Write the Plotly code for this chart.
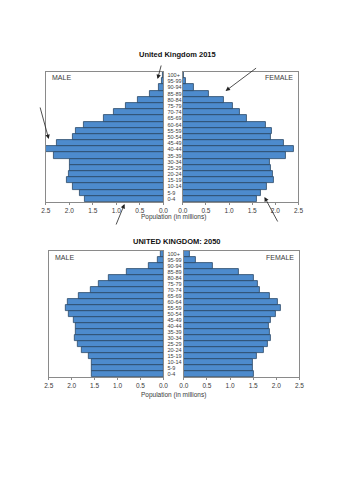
import plotly.graph_objects as go

ages = ["0-4", "5-9", "10-14", "15-19", "20-24", "25-29", "30-34", "35-39", "40-44",
        "45-49", "50-54", "55-59", "60-64", "65-69", "70-74", "75-79", "80-84",
        "85-89", "90-94", "95-99", "100+"]

male_2015 = [1.67, 1.77, 1.92, 2.05, 2.02, 2.00, 1.98, 2.32, 2.49, 2.27, 1.92, 1.87,
             1.70, 1.27, 1.05, 0.80, 0.54, 0.28, 0.09, 0.03, 0.01]
female_2015 = [1.60, 1.69, 1.82, 1.96, 1.95, 1.91, 1.88, 2.23, 2.40, 2.19, 1.90, 1.93,
               1.79, 1.39, 1.23, 1.09, 0.88, 0.56, 0.24, 0.06, 0.02]
male_2050 = [1.57, 1.56, 1.56, 1.63, 1.77, 1.86, 1.94, 1.91, 1.91, 1.96, 2.07, 2.14,
             2.08, 1.85, 1.58, 1.42, 1.19, 0.79, 0.33, 0.12, 0.05]
female_2050 = [1.51, 1.50, 1.50, 1.57, 1.72, 1.82, 1.87, 1.85, 1.84, 1.88, 1.99, 2.09,
               2.04, 1.86, 1.64, 1.59, 1.52, 1.18, 0.62, 0.27, 0.12]

x_ticks = [0, 0.5, 1.0, 1.5, 2.0, 2.5]
x_ticktext = ["0.0", "0.5", "1.0", "1.5", "2.0", "2.5"]

W, H = 354, 500
def px(x): return x / W
def py(y): return 1 - y / H

BAR = "#4d8bcd"
EDGE = "#2a4766"
FRAME = "#8a8a8a"
TXT = "#3a3a3a"
FONT = "Liberation Sans, Arial, sans-serif"

idx = list(range(len(ages)))
fig = go.Figure()

panels = [
    (male_2015, "x", "y"),
    (female_2015, "x2", "y2"),
    (male_2050, "x3", "y3"),
    (female_2050, "x4", "y4"),
]
for vals, xa, ya in panels:
    fig.add_trace(go.Bar(
        x=vals, y=idx, orientation="h", xaxis=xa, yaxis=ya, width=1.0,
        marker=dict(color=BAR, line=dict(color=EDGE, width=0.8)),
        showlegend=False, hoverinfo="skip"))

# geometry (pixels)
top = dict(y0=72, y1=202)
bot = dict(y0=251, y1=377)
xl_top = (42, 163); xr_top = (183, 302)
xl_bot = (45, 163); xr_bot = (184, 303)

def xaxis(dom, rng, anchor):
    return dict(domain=[px(dom[0]), px(dom[1])], range=rng, anchor=anchor,
                showline=True, linecolor=FRAME, linewidth=1, mirror=True,
                showgrid=False, zeroline=False, ticks="outside", ticklen=2,
                tickcolor=FRAME, tickvals=x_ticks, ticktext=x_ticktext,
                tickfont=dict(size=6.5, color=TXT, family=FONT), fixedrange=True)

def yaxis(dom, anchor, labels):
    d = dict(domain=[py(dom["y1"]), py(dom["y0"])], range=[-0.5, len(ages) - 0.5],
             anchor=anchor, showline=True, linecolor=FRAME, linewidth=1, mirror=True,
             showgrid=False, zeroline=False, ticks="", fixedrange=True)
    if labels:
        d.update(side="right", tickvals=idx, ticktext=ages, showticklabels=True,
                 tickfont=dict(size=5.5, color=TXT, family=FONT), ticklabelstandoff=2)
    else:
        d.update(showticklabels=False)
    return d

fig.update_layout(
    width=W, height=H, autosize=False,
    margin=dict(l=0, r=0, t=0, b=0),
    paper_bgcolor="white", plot_bgcolor="white",
    bargap=0,
    font=dict(family=FONT, color=TXT),
    xaxis=xaxis(xl_top, [2.5, 0], "y"),
    yaxis=yaxis(top, "x", True),
    xaxis2=xaxis(xr_top, [0, 2.5], "y2"),
    yaxis2=yaxis(top, "x2", False),
    xaxis3=xaxis(xl_bot, [2.5, 0], "y3"),
    yaxis3=yaxis(bot, "x3", True),
    xaxis4=xaxis(xr_bot, [0, 2.5], "y4"),
    yaxis4=yaxis(bot, "x4", False),
)

ann = []
def text(x, y, s, size=7, bold=False, xanchor="center"):
    ann.append(dict(x=px(x), y=py(y), xref="paper", yref="paper", showarrow=False,
                    text=("<b>%s</b>" % s) if bold else s, xanchor=xanchor, yanchor="middle",
                    font=dict(size=size, color="#111" if bold else TXT, family=FONT)))

text(177, 55, "United Kingdom 2015", size=7.5, bold=True)
text(177, 241, "UNITED KINGDOM: 2050", size=7.5, bold=True)
text(173, 217, "Population (in millions)", size=6.5)
text(173, 395, "Population (in millions)", size=6.5)
text(46, 77, "MALE", xanchor="left")
text(298, 77, "FEMALE", xanchor="right")
text(49, 257, "MALE", xanchor="left")
text(299, 257, "FEMALE", xanchor="right")

def arrow(hx, hy, tx, ty):
    ann.append(dict(x=px(hx), y=py(hy), xref="paper", yref="paper", showarrow=True,
                    ax=tx - hx, ay=ty - hy, axref="pixel", ayref="pixel", text="",
                    arrowhead=2, arrowsize=1.1, arrowwidth=0.8, arrowcolor="#222",
                    standoff=0))

arrow(157, 79, 161, 64)
arrow(45, 139, 36, 106)
arrow(123, 204, 114, 226)
arrow(227, 91, 259, 67)
arrow(267, 197, 281, 223)

fig.update_layout(annotations=ann)
fig.write_html("out.html")
